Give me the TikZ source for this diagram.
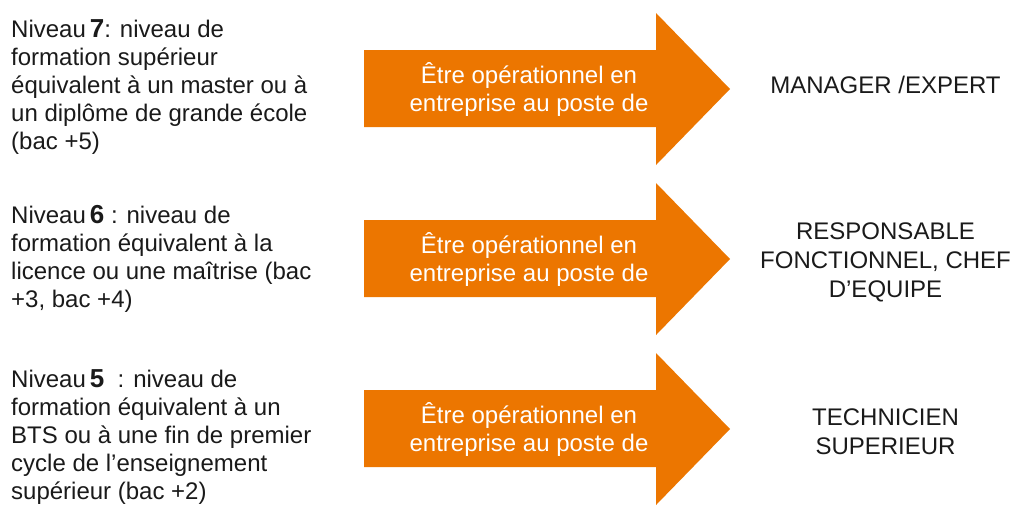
\documentclass[tikz,border=0pt]{standalone}
\usepackage{fontspec}
\setmainfont{Liberation Sans}
\definecolor{arrowor}{RGB}{236,118,0}
\definecolor{txt}{RGB}{26,26,26}
\tikzset{
  lefttext/.style={anchor=base west, inner sep=0pt, align=left, text=txt,
    font=\fontsize{24}{28}\selectfont},
  arrowtext/.style={anchor=base, inner sep=0pt, align=center, text=white,
    font=\fontsize{24}{28}\selectfont},
  righttext/.style={anchor=base, inner sep=0pt, align=center, text=txt,
    font=\fontsize{24}{29}\selectfont},
  bigarrow/.style={fill=arrowor, draw=none}
}
\newcommand{\lvl}[1]{{\fontsize{26}{28}\selectfont\bfseries #1}}
\begin{document}
\begin{tikzpicture}[x=1pt,y=-1pt]
\useasboundingbox (0,0) rectangle (1024,520);
% arrows (base anchor of a multi-line node = baseline of its last line)
\foreach \dy/\nm in {0/a1,170/a2,340/a3}{
  \fill[bigarrow] (364,50+\dy) -- (656,50+\dy) -- (656,13+\dy) -- (730,89+\dy)
     -- (656,165+\dy) -- (656,127+\dy) -- (364,127+\dy) -- cycle;
  \node[arrowtext] (\nm) at (529,111+\dy) {Être opérationnel en\\entreprise au poste de};
}
% left texts
\node[lefttext] (l1) at (11,149) {Niveau\,\lvl{7}: niveau de\\formation supérieur\\équivalent à un master ou à\\un diplôme de grande école\\(bac +5)};
\node[lefttext] (l2) at (11,307) {Niveau\,\lvl{6} : niveau de\\formation équivalent à la\\licence ou une maîtrise (bac\\+3, bac +4)};
\node[lefttext] (l3) at (11,499) {Niveau\,\lvl{5} \ : niveau de\\formation équivalent à un\\BTS ou à une fin de premier\\cycle de l’enseignement\\supérieur (bac +2)};
% right texts
\node[righttext] (r1) at (885.5,93) {MANAGER /EXPERT};
\node[righttext] (r2) at (885.5,297.3) {RESPONSABLE\\FONCTIONNEL, CHEF\\D’EQUIPE};
\node[righttext] (r3) at (885.5,454.7) {TECHNICIEN\\SUPERIEUR};
\end{tikzpicture}
\end{document}
